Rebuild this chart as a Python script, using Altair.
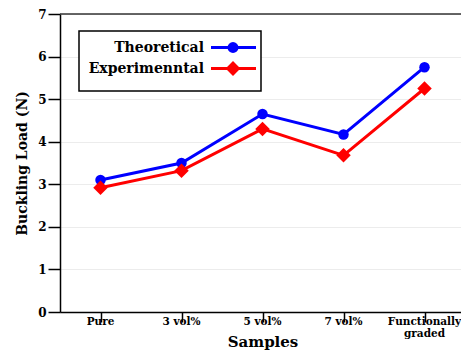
import altair as alt
import pandas as pd

samples = ["Pure", "3 vol%", "5 vol%", "7 vol%", "Functionally graded"]
sample_labels = ["Pure", "3 vol%", "5 vol%", "7 vol%", "Functionally\ngraded"]
theoretical = [3.10, 3.50, 4.65, 4.17, 5.75]
experimental = [2.92, 3.32, 4.30, 3.68, 5.25]
series_names = ["Theoretical", "Experimenntal"]
series_colors = ["#0000FF", "#FF0000"]
series_shapes = ["circle", "diamond"]
y_ticks = [0, 1, 2, 3, 4, 5, 6, 7]

FONT = "DejaVu Serif"
W, H = 401, 298

rows = []
for s, v in zip(samples, theoretical):
    rows.append({"sample": s, "load": v, "series": series_names[0]})
for s, v in zip(samples, experimental):
    rows.append({"sample": s, "load": v, "series": series_names[1]})
df = pd.DataFrame(rows)
lab_df = pd.DataFrame({"sample": samples, "label": sample_labels})

xscale = alt.Scale(domain=samples, range=[0, 405], paddingInner=0, paddingOuter=0)
yscale = alt.Scale(domain=[0, 7], nice=False)

x_enc = alt.X(
    "sample:N", sort=samples, scale=xscale,
    axis=alt.Axis(
        title="Samples", labels=False, bandPosition=0, tickSize=10, grid=False,
        domainColor="black", domainWidth=1.5, tickColor="black", tickWidth=1.5,
        titleFont=FONT, titleFontSize=15, titleFontWeight="bold", titleColor="black",
        titlePadding=12,
    ),
)
y_enc = alt.Y(
    "load:Q", scale=yscale,
    axis=alt.Axis(
        title="Buckling Load (N)", values=y_ticks, tickSize=12, grid=True,
        gridColor="#ececec", gridWidth=1,
        domainColor="black", domainWidth=1.5, tickColor="black", tickWidth=1.5,
        labelFont=FONT, labelFontSize=12, labelFontWeight="bold", labelColor="black",
        labelPadding=2,
        titleFont=FONT, titleFontSize=14, titleFontWeight="bold", titleColor="black",
        titlePadding=8,
    ),
)

color_scale = alt.Scale(domain=series_names, range=series_colors)
shape_scale = alt.Scale(domain=series_names, range=series_shapes)

lines = alt.Chart(df).mark_line(strokeWidth=3).encode(
    x=x_enc, y=y_enc,
    color=alt.Color("series:N", scale=color_scale, legend=None),
    detail="series:N",
)
points = alt.Chart(df).mark_point(filled=True, opacity=1).encode(
    x=alt.X("sample:N", sort=samples),
    y="load:Q",
    color=alt.Color("series:N", scale=color_scale, legend=None),
    shape=alt.Shape("series:N", scale=shape_scale, legend=None),
    size=alt.Size("series:N", scale=alt.Scale(domain=series_names, range=[110, 210]), legend=None),
)

top_rule = alt.Chart(pd.DataFrame({"t": [7]})).mark_rule(color="#333333", strokeWidth=1.5).encode(
    y=alt.Y("t:Q", scale=yscale)
)

xlabels = alt.Chart(lab_df).mark_text(
    baseline="middle", align="center", lineBreak="\n", font=FONT, fontSize=10.5,
    fontWeight="bold", color="black", lineHeight=11.5,
).encode(
    x=alt.X("sample:N", sort=samples),
    y=alt.value(H + 10),
    text="label:N",
)

one = pd.DataFrame({"k": [0]})
legend_box = alt.Chart(one).mark_rect(fill="white", stroke="black", strokeWidth=1.5).encode(
    x=alt.value(19), x2=alt.value(201), y=alt.value(17), y2=alt.value(77)
)
legend_layers = [legend_box]
for i, (name, col, shp) in enumerate(zip(series_names, series_colors, series_shapes)):
    ly = 33.5 + i * 21
    d = pd.DataFrame({"name": [name]})
    legend_layers.append(
        alt.Chart(d).mark_text(align="right", baseline="middle", font=FONT, fontSize=14,
                               fontWeight="bold", color="black").encode(
            x=alt.value(144), y=alt.value(ly), text="name:N")
    )
    legend_layers.append(
        alt.Chart(d).mark_rule(color=col, strokeWidth=3).encode(
            x=alt.value(151), x2=alt.value(196), y=alt.value(ly))
    )
    legend_layers.append(
        alt.Chart(d).mark_point(filled=True, opacity=1, color=col, shape=shp,
                                size=120 if i == 0 else 220).encode(
            x=alt.value(173), y=alt.value(ly))
    )

chart = alt.layer(lines, top_rule, points, xlabels, *legend_layers).properties(
    width=W, height=H,
    autosize=alt.AutoSizeParams(type="none"),
    padding={"left": 52, "top": 6, "right": 0, "bottom": 38},
).configure_view(stroke=None).configure(background="white")

chart.save("out.html", embed_options={"renderer": "svg", "actions": False})
